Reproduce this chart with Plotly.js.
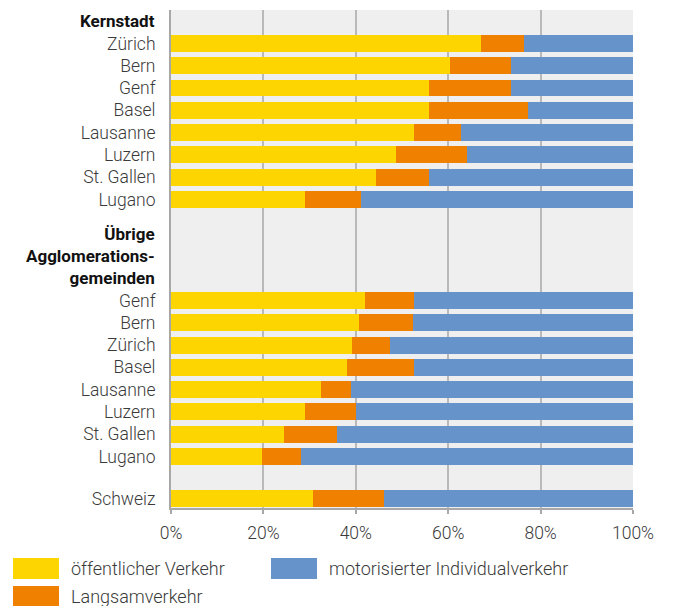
<!DOCTYPE html>
<html>
<head>
<meta charset="utf-8">
<script src="https://cdn.plot.ly/plotly-3.0.1.min.js"></script>
<style>html,body{margin:0;padding:0;background:#fff;}#chart{width:673px;height:606px;}</style>
</head>
<body>
<div id="chart"></div>
<script>
// ---- data ----
const seriesNames = ['öffentlicher Verkehr', 'Langsamverkehr', 'motorisierter Individualverkehr'];
const groupHeaders = ['Kernstadt', 'Übrige<br>Agglomerations-<br>gemeinden'];

const kernCities = ['Zürich', 'Bern', 'Genf', 'Basel', 'Lausanne', 'Luzern', 'St. Gallen', 'Lugano'];
const kernOV  = [67.2, 60.3, 55.8, 55.8, 52.7, 48.6, 44.3, 28.9];
const kernLV  = [9.1, 13.4, 17.9, 21.4, 10.0, 15.4, 11.5, 12.3];
const kernMIV = [23.7, 26.3, 26.3, 22.8, 37.3, 36.0, 44.2, 58.8];

const aggloCities = ['Genf', 'Bern', 'Zürich', 'Basel', 'Lausanne', 'Luzern', 'St. Gallen', 'Lugano'];
const aggloOV  = [41.9, 40.6, 39.1, 38.2, 32.4, 28.9, 24.4, 19.8];
const aggloLV  = [10.8, 11.7, 8.4, 14.5, 6.5, 11.1, 11.5, 8.4];
const aggloMIV = [47.3, 47.7, 52.5, 47.3, 61.1, 60.0, 64.1, 71.8];

const chCity = ['Schweiz'];
const chOV  = [30.7];
const chLV  = [15.5];
const chMIV = [53.8];

const xTicks = [0, 20, 40, 60, 80, 100];

// ---- layout helpers ----
const colors = ['#FDD500', '#F08000', '#6793CB'];
const kernStart = 1, aggloStart = 12.53, chPos = 21.41;
const kernY = kernCities.map((c, i) => kernStart + i);
const aggloY = aggloCities.map((c, i) => aggloStart + i);
const chY = [chPos];

const yAll = kernY.concat(aggloY, chY);
const labels = kernCities.concat(aggloCities, chCity);
const ov = kernOV.concat(aggloOV, chOV);
const lv = kernLV.concat(aggloLV, chLV);
const miv = kernMIV.concat(aggloMIV, chMIV);
const vals = [ov, lv, miv];

const W = 673, H = 606, ML = 171, MR = 40, MT = 10, MB = 98;
const PW = W - ML - MR, PH = H - MT - MB;
const px = x => (x - ML) / PW;
const py = y => (H - MB - y) / PH;

const FONT = 'Roboto, "Open Sans", sans-serif';
const TXT = '#3a3a3a';

const traces = vals.map((v, k) => ({
  type: 'bar',
  orientation: 'h',
  name: seriesNames[k],
  y: yAll,
  x: v,
  width: 0.76,
  marker: {color: colors[k], line: {width: 0}},
  hoverinfo: 'x+name',
  showlegend: false
}));

const annotations = [
  {text: '<b>' + groupHeaders[0] + '</b>', xref: 'paper', yref: 'y', x: 0, y: 0, xanchor: 'right', yanchor: 'middle',
   xshift: -14, showarrow: false, align: 'right', font: {family: FONT, size: 17, color: '#111'}},
  {text: '<b>' + groupHeaders[1] + '</b>', xref: 'paper', yref: 'y', x: 0, y: 10.55, xanchor: 'right', yanchor: 'middle',
   xshift: -14, showarrow: false, align: 'right', font: {family: FONT, size: 17, color: '#111'}}
];
const shapes = [];
// legend
const legItems = [
  {c: colors[0], t: seriesNames[0], bx: 13, by: 558},
  {c: colors[2], t: seriesNames[2], bx: 271, by: 558},
  {c: colors[1], t: seriesNames[1], bx: 13, by: 586}
];
legItems.forEach(it => {
  shapes.push({type: 'rect', xref: 'paper', yref: 'paper', x0: px(it.bx), x1: px(it.bx + 46),
    y0: py(it.by + 21), y1: py(it.by), fillcolor: it.c, line: {width: 0}, layer: 'above'});
  annotations.push({text: it.t, xref: 'paper', yref: 'paper', x: px(it.bx + 55.5), y: py(it.by + 10.5),
    xanchor: 'left', yanchor: 'middle', showarrow: false, font: {family: FONT, size: 18, color: TXT, weight: 300}});
});

const layout = {
  width: W, height: H,
  margin: {l: ML, r: MR, t: MT, b: MB, pad: 0},
  paper_bgcolor: '#ffffff',
  plot_bgcolor: '#efefef',
  barmode: 'stack',
  bargap: 0,
  showlegend: false,
  font: {family: FONT, size: 17, color: TXT},
  xaxis: {
    range: [0, 100], tickvals: xTicks, ticktext: xTicks.map(v => v + '%'),
    showgrid: true, gridcolor: '#b9b9b9', gridwidth: 2,
    showline: true, linecolor: '#a8a8a8', linewidth: 2,
    ticks: 'outside', ticklen: 4, tickwidth: 2, tickcolor: '#a8a8a8',
    ticklabelstandoff: 4,
    tickfont: {family: FONT, size: 17.5, color: TXT, weight: 300},
    zeroline: false, fixedrange: true
  },
  yaxis: {
    range: [21.84, -0.5], tickvals: yAll, ticktext: labels,
    showgrid: false, zeroline: false,
    showline: true, linecolor: '#a8a8a8', linewidth: 2,
    ticks: '', ticklabelstandoff: 10,
    tickfont: {family: FONT, size: 17.5, color: TXT, weight: 300},
    fixedrange: true
  },
  shapes: shapes,
  annotations: annotations
};

Plotly.newPlot('chart', traces, layout, {displayModeBar: false, staticPlot: true});
</script>
</body>
</html>
